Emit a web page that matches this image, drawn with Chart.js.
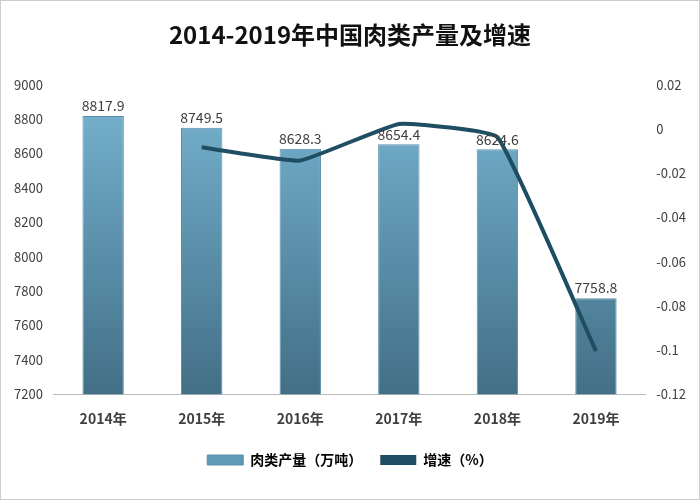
<!DOCTYPE html>
<html><head><meta charset="utf-8">
<script src="https://cdn.jsdelivr.net/npm/chart.js@4"></script>
<style>body{margin:0;background:#fff}#w{width:698px;height:498px;border:1px solid #ccc;position:relative}</style>
</head><body><div id="w"><canvas id="c" width="698" height="498"></canvas></div>
<script>
const years=['2014年','2015年','2016年','2017年','2018年','2019年'];
const output=[8817.9,8749.5,8628.3,8654.4,8624.6,7758.8];
const growth=[null,-0.0083,-0.0143,0.0023,-0.0037,-0.1005];
const F="'Noto Sans CJK SC',sans-serif";
Chart.register({id:'lbl',afterDatasetsDraw(ch){const ctx=ch.ctx;const m=ch.getDatasetMeta(1);ctx.save();ctx.font='14px '+F;ctx.fillStyle='#404040';ctx.textAlign='center';m.data.forEach((b,i)=>ctx.fillText(output[i].toFixed(1),b.x,b.y-10));ctx.restore();}});
new Chart(document.getElementById('c'),{
data:{labels:years,datasets:[
{type:'line',label:'增速（%）',data:growth,yAxisID:'y1',borderColor:'#1f4e63',backgroundColor:'#1f4e63',borderWidth:4,pointRadius:0,tension:0.1,order:0},
{type:'bar',label:'肉类产量（万吨）',data:output,yAxisID:'y',order:1,barPercentage:0.42,categoryPercentage:1,borderColor:'#5a8fa8',borderWidth:1,
backgroundColor:(c)=>{const a=c.chart.chartArea;if(!a)return '#6aa8c8';const g=c.chart.ctx.createLinearGradient(0,a.top,0,a.bottom);g.addColorStop(0,'#78b5d3');g.addColorStop(1,'#426f86');return g;}}
]},
options:{responsive:false,animation:false,
layout:{padding:{left:10,right:10,top:5,bottom:22}},
plugins:{title:{display:true,text:'2014-2019年中国肉类产量及增速',font:{family:F,size:24,weight:'bold'},color:'#111',padding:{top:14,bottom:36}},
legend:{position:'bottom',labels:{font:{family:F,size:14,weight:'bold'},color:'#333',boxWidth:36,boxHeight:10,padding:18,
generateLabels:(ch)=>[{text:'肉类产量（万吨）',fillStyle:'#5f9ab8',strokeStyle:'#5a8fa8',lineWidth:1,datasetIndex:1},{text:'增速（%）',fillStyle:'#1f4e63',strokeStyle:'#1f4e63',lineWidth:0,datasetIndex:0}]}},
tooltip:{enabled:false}},
scales:{x:{grid:{display:false},border:{color:'#bbb'},ticks:{font:{family:F,size:14,weight:'bold'},color:'#404040',padding:8}},
y:{min:7200,max:9000,ticks:{stepSize:200,font:{family:F,size:13},color:'#404040',callback:v=>String(v)},grid:{display:false},border:{display:false}},
y1:{position:'right',min:-0.12,max:0.02,ticks:{stepSize:0.02,font:{family:F,size:13},color:'#404040',callback:v=>Math.abs(v)<1e-9?'0':String(+v.toFixed(2))},grid:{display:false},border:{display:false}}}}
});
</script></body></html>
